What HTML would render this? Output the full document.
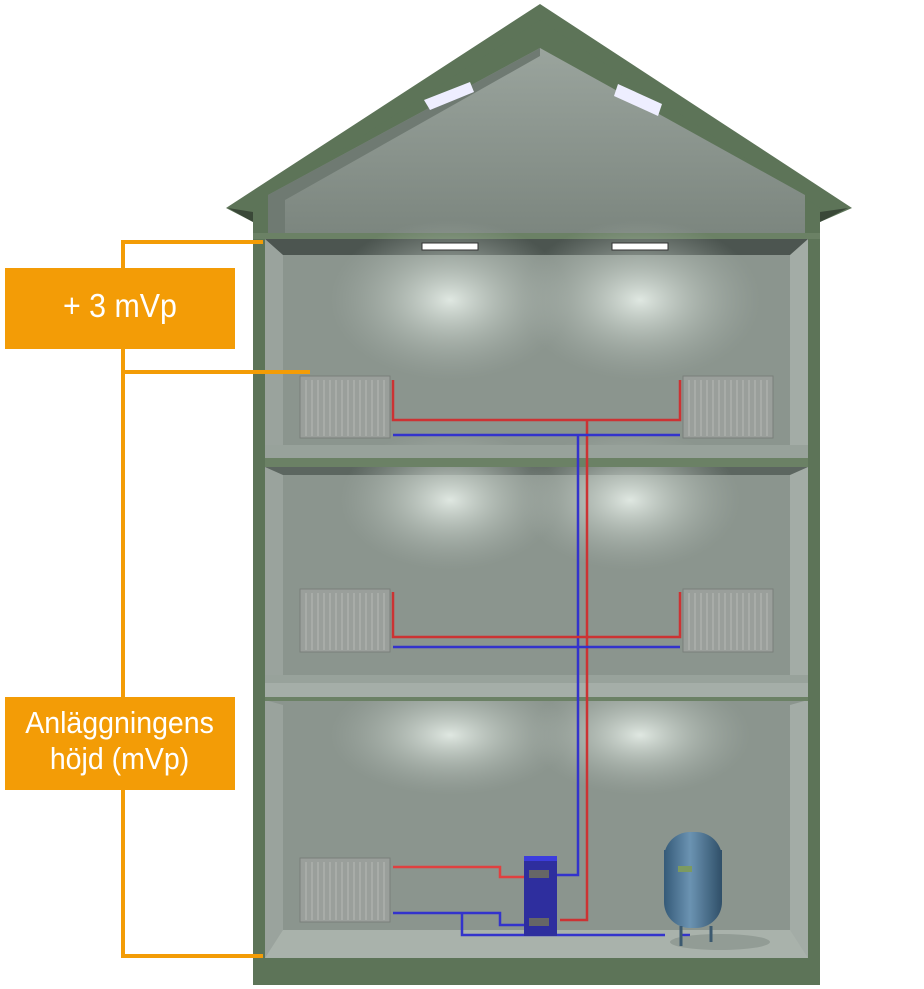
<!DOCTYPE html>
<html><head><meta charset="utf-8"><style>
html,body{margin:0;padding:0;background:#fff;width:924px;height:989px;overflow:hidden}
.lab{position:absolute;background:#f39c06;color:#fff;font-family:"Liberation Sans",sans-serif;text-align:center}
.lab span{display:inline-block;transform:scaleX(0.92)}
</style></head><body>
<svg width="924" height="989" style="position:absolute;left:0;top:0">
<defs>
<radialGradient id="glow" cx="0.5" cy="0.5" r="0.5">
<stop offset="0" stop-color="#e4ece6" stop-opacity="0.95"/>
<stop offset="0.5" stop-color="#c2cbc4" stop-opacity="0.5"/>
<stop offset="1" stop-color="#a7b0aa" stop-opacity="0"/>
</radialGradient>
<linearGradient id="attic" x1="0" y1="0" x2="0" y2="1">
<stop offset="0" stop-color="#9aa49d"/><stop offset="1" stop-color="#7c867f"/>
</linearGradient>
<linearGradient id="tank" x1="0" y1="0" x2="1" y2="0">
<stop offset="0" stop-color="#355a78"/><stop offset="0.45" stop-color="#6b93b2"/><stop offset="1" stop-color="#2f4f68"/>
</linearGradient>
</defs>
<polygon points="226,208 540,4 852,208 820,222 540,30 253,222" fill="#5d7458"/>
<polygon points="253,208 540,20 820,208 820,985 253,985" fill="#5d7458"/>
<polygon points="228,208 253,222 253,212" fill="#3a4838"/>
<polygon points="848,208 820,222 820,212" fill="#3a4838"/>
<polygon points="268,233 268,195 540,48 805,195 805,233" fill="url(#attic)"/>
<polygon points="268,195 540,48 540,56 285,200 285,233 268,233" fill="#6f7a72"/>
<polygon points="424,100 470,82 474,92 430,110" fill="#eef"/>
<polygon points="618,84 662,104 658,116 614,96" fill="#eef"/>
<rect x="253" y="233" width="567" height="6" fill="#6b8165"/>
<rect x="265" y="239" width="543" height="219" fill="#8b958e"/>
<rect x="265" y="467" width="543" height="216" fill="#8b958e"/>
<rect x="265" y="700" width="543" height="260" fill="#8b958e"/>
<rect x="265" y="239" width="543" height="16" fill="#4c5550"/>
<rect x="265" y="467" width="543" height="8" fill="#5c6660"/>
<ellipse cx="450" cy="300" rx="120" ry="80" fill="url(#glow)"/>
<ellipse cx="640" cy="300" rx="120" ry="80" fill="url(#glow)"/>
<ellipse cx="450" cy="500" rx="110" ry="70" fill="url(#glow)"/>
<ellipse cx="630" cy="500" rx="110" ry="70" fill="url(#glow)"/>
<ellipse cx="450" cy="735" rx="120" ry="60" fill="url(#glow)"/>
<ellipse cx="640" cy="735" rx="110" ry="60" fill="url(#glow)"/>
<polygon points="265,239 283,255 283,445 265,458" fill="#9aa39d"/>
<polygon points="808,239 790,255 790,445 808,458" fill="#a3aca6"/>
<polygon points="265,467 283,475 283,675 265,683" fill="#9aa39d"/>
<polygon points="808,467 790,475 790,675 808,683" fill="#a3aca6"/>
<polygon points="265,700 283,705 283,935 265,960" fill="#9aa39d"/>
<polygon points="808,700 790,705 790,935 808,960" fill="#a3aca6"/>
<rect x="265" y="445" width="543" height="13" fill="#98a29b"/>
<rect x="265" y="675" width="543" height="8" fill="#98a29b"/>
<rect x="265" y="683" width="543" height="14" fill="#a5aea8"/>
<polygon points="283,930 790,930 808,958 265,958" fill="#a9b2ab"/>
<rect x="253" y="458" width="567" height="9" fill="#6b8165"/>
<rect x="253" y="697" width="567" height="4" fill="#6b8165"/>
<rect x="253" y="958" width="567" height="27" fill="#5d7458"/>
<rect x="253" y="239" width="12" height="720" fill="#5d7458"/>
<rect x="808" y="239" width="12" height="720" fill="#5d7458"/>
<rect x="422" y="243" width="56" height="7" fill="#fff" stroke="#333" stroke-width="1"/>
<rect x="612" y="243" width="56" height="7" fill="#fff" stroke="#333" stroke-width="1"/>
<g fill="#9a9f9b" stroke="#7a7f7b">
<rect x="300" y="376" width="90" height="62"/><rect x="683" y="376" width="90" height="62"/>
<rect x="300" y="589" width="90" height="63"/><rect x="683" y="589" width="90" height="63"/>
<rect x="300" y="858" width="90" height="64"/>
</g>
<g stroke="#b5bab6" stroke-width="1">
<path d="M306 380v56M312 380v56M318 380v56M324 380v56M330 380v56M336 380v56M342 380v56M348 380v56M354 380v56M360 380v56M366 380v56M372 380v56M378 380v56M384 380v56"/>
<path d="M689 380v56M695 380v56M701 380v56M707 380v56M713 380v56M719 380v56M725 380v56M731 380v56M737 380v56M743 380v56M749 380v56M755 380v56M761 380v56M767 380v56"/>
<path d="M306 593v57M312 593v57M318 593v57M324 593v57M330 593v57M336 593v57M342 593v57M348 593v57M354 593v57M360 593v57M366 593v57M372 593v57M378 593v57M384 593v57"/>
<path d="M689 593v57M695 593v57M701 593v57M707 593v57M713 593v57M719 593v57M725 593v57M731 593v57M737 593v57M743 593v57M749 593v57M755 593v57M761 593v57M767 593v57"/>
<path d="M306 862v58M312 862v58M318 862v58M324 862v58M330 862v58M336 862v58M342 862v58M348 862v58M354 862v58M360 862v58M366 862v58M372 862v58M378 862v58M384 862v58"/>
</g>
<g fill="none" stroke-width="2.5">
<path d="M393 380V420H680V380M587 420V920H560" stroke="#c33"/>
<path d="M393 435H680M578 435V875H556" stroke="#3333cc"/>
<path d="M393 592V637H680V592" stroke="#c33"/>
<path d="M393 647H680" stroke="#3333cc"/>
<path d="M393 867H500V877H524" stroke="#e04040"/>
<path d="M393 913H500V925H524M462 913V935H665M680 935H690" stroke="#3333cc"/>
</g>
<rect x="524" y="856" width="33" height="80" fill="#2e2e9e"/>
<rect x="524" y="856" width="33" height="5" fill="#3c3cdd"/>
<rect x="529" y="870" width="20" height="8" fill="#666"/>
<rect x="529" y="918" width="20" height="8" fill="#666"/>
<ellipse cx="720" cy="942" rx="50" ry="8" fill="#7c857f" opacity="0.5"/>
<rect x="664" y="832" width="58" height="96" rx="26" fill="url(#tank)"/>
<rect x="664" y="850" width="58" height="14" fill="url(#tank)"/>
<rect x="678" y="866" width="14" height="6" fill="#7c9a60"/>
<path d="M681 926V946M711 926V942" stroke="#3c5a70" stroke-width="3"/>
</svg>
<div style="position:absolute;left:121px;top:240px;width:4px;height:28px;background:#f39c06"></div>
<div style="position:absolute;left:121px;top:240px;width:142px;height:4px;background:#f39c06"></div>
<div style="position:absolute;left:121px;top:349px;width:4px;height:348px;background:#f39c06"></div>
<div style="position:absolute;left:121px;top:370px;width:189px;height:4px;background:#f39c06"></div>
<div style="position:absolute;left:121px;top:790px;width:4px;height:168px;background:#f39c06"></div>
<div style="position:absolute;left:121px;top:954px;width:142px;height:4px;background:#f39c06"></div>
<div class="lab" style="left:5px;top:268px;width:230px;height:81px;line-height:76px;font-size:33px"><span>+ 3 mVp</span></div>
<div class="lab" style="left:5px;top:697px;width:230px;height:93px;font-size:31px;line-height:36px;padding-top:8px;box-sizing:border-box"><span>Anläggningens<br>höjd (mVp)</span></div>
</body></html>
